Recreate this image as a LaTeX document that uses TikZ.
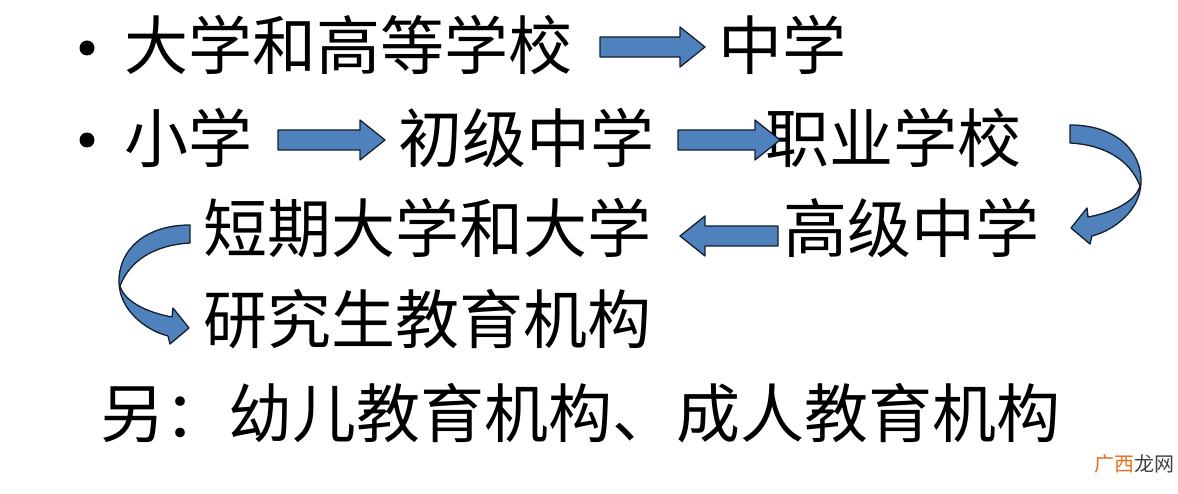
\documentclass[tikz,border=0pt]{standalone}
\usepackage{fontspec}
\setmainfont{Noto Sans CJK SC}
\newfontfamily\wmfont{Noto Sans CJK SC}
\definecolor{arrowblue}{RGB}{79,129,189}
\definecolor{arrowedge}{RGB}{20,30,45}
\definecolor{wmorange}{RGB}{230,110,30}
\newcommand{\rblock}[4]{% x1 xhead x2 yc
  \filldraw[blk] (#1,#4-10) -- (#2,#4-10) -- (#2,#4-20) -- (#3,#4) -- (#2,#4+20) -- (#2,#4+10) -- (#1,#4+10) -- cycle;}
\newcommand{\carrowpath}{(1070,125) .. controls (1115,125) and (1142,150) .. (1141,183)
 .. controls (1140,210) and (1115,230) .. (1092,236)
 -- (1090,244) -- (1071,228) -- (1087,208) -- (1088,217)
 .. controls (1110,213) and (1135,203) .. (1140,186)
 .. controls (1130,160) and (1105,145) .. (1070,143) -- cycle}
\begin{document}
\begin{tikzpicture}[x=1pt,y=-1pt,
  blk/.style={fill=arrowblue,draw=arrowedge,line width=1.3pt,line join=round},
  txt/.style={anchor=base west,inner sep=0pt,font=\fontsize{64}{72}\selectfont},
  big/.style={anchor=base west,inner sep=0pt,font=\fontsize{64}{72}\selectfont},
  bul/.style={circle,fill=black,inner sep=0pt,minimum size=15pt}]
\useasboundingbox[fill=white] (0,0) rectangle (1178,494);
% row 1
\node[bul] (b1) at (87,48) {};
\node[txt] (t1) at (124,70) {大学和高等学校};
\node[txt] (t2) at (718,70) {中学};
\rblock{600}{680}{705}{47}
% row 2
\node[bul] (b2) at (87,140) {};
\node[txt] (t3) at (124,163) {小学};
\node[txt] (t4) at (398,163) {初级中学};
\node[txt] (t5) at (765,163) {职业学校};
\rblock{278}{360}{385}{140}
\rblock{678}{755}{780}{140}
% row 3
\node[txt] (t6) at (203,253) {短期大学和大学};
\node[txt] (t7) at (783,253) {高级中学};
\rblock{778}{705}{680}{236}
% row 4
\node[txt] (t8) at (203,343) {研究生教育机构};
% row 5
\node[big] (t9) at (100,437) {另：幼儿教育机构、成人教育机构};
% curved arrows
\filldraw[blk] \carrowpath;
\begin{scope}[xshift=1260pt,yshift=-100pt,xscale=-1]
\filldraw[blk] \carrowpath;
\end{scope}
% watermark
\node[anchor=base west,inner sep=0pt,font=\wmfont\fontsize{20}{22}\selectfont] (wm) at (1094,471)
  {\textcolor{wmorange}{广西}\textcolor{black!75}{龙网}};
\end{tikzpicture}
\end{document}
